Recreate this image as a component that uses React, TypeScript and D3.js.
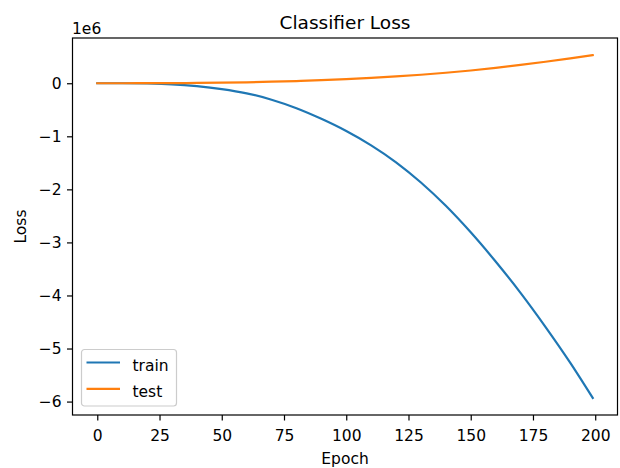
import { useEffect, useRef } from 'react'
import * as d3 from 'd3'

const epochs = [0, 10, 20, 30, 40, 50, 60, 70, 80, 90, 100, 110, 120, 130, 140, 150, 160, 170, 180, 190, 199]
const trainLoss = [0, 0, -0.005e6, -0.02e6, -0.055e6, -0.11e6, -0.19e6, -0.31e6, -0.47e6, -0.67e6, -0.9e6, -1.17e6, -1.49e6, -1.87e6, -2.31e6, -2.81e6, -3.36e6, -3.95e6, -4.59e6, -5.27e6, -5.93e6]
const testLoss = [0, 0, 0.001e6, 0.002e6, 0.006e6, 0.011e6, 0.018e6, 0.029e6, 0.042e6, 0.058e6, 0.077e6, 0.1e6, 0.128e6, 0.16e6, 0.198e6, 0.24e6, 0.29e6, 0.345e6, 0.405e6, 0.47e6, 0.53e6]
const xTicks = [0, 25, 50, 75, 100, 125, 150, 175, 200]
const yTicks = [0, -1e6, -2e6, -3e6, -4e6, -5e6, -6e6]

const series = [
  { name: 'train', values: trainLoss, color: '#1f77b4' },
  { name: 'test', values: testLoss, color: '#ff7f0e' }
]

const FONT = 'DejaVu Sans, sans-serif'
const FS = '15.5px'

function App() {
  const svgRef = useRef<SVGSVGElement>(null)

  useEffect(() => {
    if (!svgRef.current) return
    const width = 620
    const height = 468
    const margin = { top: 38, right: 2.5, bottom: 53, left: 72.5 }
    const innerW = width - margin.left - margin.right
    const innerH = height - margin.top - margin.bottom

    const svg = d3.select(svgRef.current)
    svg.selectAll('*').remove()
    svg.attr('width', width).attr('height', height)

    // matplotlib-style 5% margins around the data
    const xMin = d3.min(epochs)!, xMax = d3.max(epochs)!
    const xPad = (xMax - xMin) * 0.05
    const allY = [...trainLoss, ...testLoss]
    const yMin = d3.min(allY)!, yMax = d3.max(allY)!
    const yPad = (yMax - yMin) * 0.05

    const x = d3.scaleLinear().domain([xMin - xPad, xMax + xPad]).range([0, innerW])
    const y = d3.scaleLinear().domain([yMin - yPad, yMax + yPad]).range([innerH, 0])

    const g = svg.append('g').attr('transform', `translate(${margin.left},${margin.top})`)

    // Lines
    const line = d3.line<number>()
      .x((_, i) => x(epochs[i]))
      .y(d => y(d))
      .curve(d3.curveMonotoneX)

    series.forEach(s => {
      g.append('path')
        .datum(s.values)
        .attr('fill', 'none')
        .attr('stroke', s.color)
        .attr('stroke-width', 2.2)
        .attr('stroke-linejoin', 'round')
        .attr('stroke-linecap', 'square')
        .attr('d', line)
    })

    // Axes
    const xAxis = g.append('g')
      .attr('transform', `translate(0,${innerH})`)
      .call(d3.axisBottom(x).tickValues(xTicks).tickSize(5.5).tickPadding(9).tickSizeOuter(0))
    const yAxis = g.append('g')
      .call(d3.axisLeft(y).tickValues(yTicks).tickSize(5.5).tickPadding(5.5).tickSizeOuter(0)
        .tickFormat(d => {
          const v = Math.round((d as number) / 1e6)
          return v < 0 ? '\u2212' + Math.abs(v) : String(v)
        }))

    ;[xAxis, yAxis].forEach(ax => {
      ax.select('.domain').remove()
      ax.selectAll('line').attr('stroke', '#000').attr('stroke-width', 1.2)
      ax.selectAll('text').attr('fill', '#000').style('font-family', FONT).style('font-size', FS)
    })

    // Spines
    g.append('rect')
      .attr('width', innerW)
      .attr('height', innerH)
      .attr('fill', 'none')
      .attr('stroke', '#000')
      .attr('stroke-width', 1.2)

    // Offset text
    svg.append('text')
      .attr('x', margin.left - 0.5)
      .attr('y', 34)
      .style('font-family', FONT)
      .style('font-size', FS)
      .text('1e6')

    // Title
    svg.append('text')
      .attr('x', margin.left + innerW / 2)
      .attr('y', 28.5)
      .attr('text-anchor', 'middle')
      .style('font-family', FONT)
      .style('font-size', '18.5px')
      .text('Classifier Loss')

    // Axis labels
    svg.append('text')
      .attr('x', margin.left + innerW / 2)
      .attr('y', 464)
      .attr('text-anchor', 'middle')
      .style('font-family', FONT)
      .style('font-size', FS)
      .text('Epoch')

    svg.append('text')
      .attr('transform', `translate(26,${margin.top + innerH / 2}) rotate(-90)`)
      .attr('text-anchor', 'middle')
      .style('font-family', FONT)
      .style('font-size', FS)
      .text('Loss')

    // Legend
    const legend = svg.append('g').attr('transform', 'translate(81.5,349.5)')
    legend.append('rect')
      .attr('width', 95)
      .attr('height', 56.5)
      .attr('rx', 3)
      .attr('fill', '#fff')
      .attr('fill-opacity', 0.8)
      .attr('stroke', '#ccc')
      .attr('stroke-width', 1.2)

    series.forEach((s, i) => {
      const row = legend.append('g').attr('transform', `translate(0,${13 + i * 26.4})`)
      row.append('line')
        .attr('x1', 5)
        .attr('x2', 38.5)
        .attr('stroke', s.color)
        .attr('stroke-width', 2.2)
      row.append('text')
        .attr('x', 51)
        .attr('y', 8.3)
        .style('font-family', FONT)
        .style('font-size', FS)
        .text(s.name)
    })
  }, [])

  return (
    <div style={{ position: 'absolute', left: 0, top: 0, width: 620, height: 468, background: '#fff' }}>
      <svg ref={svgRef} style={{ display: 'block' }}></svg>
    </div>
  )
}

export default App
